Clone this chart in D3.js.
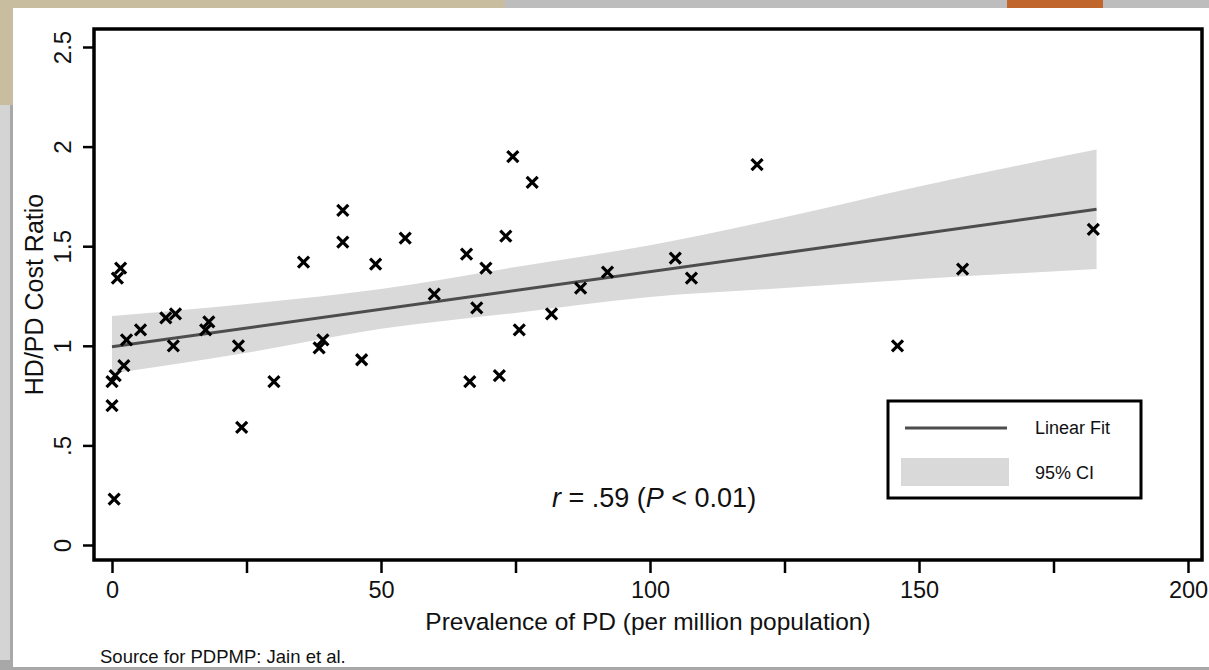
<!DOCTYPE html>
<html>
<head>
<meta charset="utf-8">
<script src="https://cdn.jsdelivr.net/npm/d3@7"></script>
<style>
  body { margin: 0; background: #ffffff; }
  text { font-family: "Liberation Sans", Arial, Helvetica, sans-serif; fill: #111; }
</style>
</head>
<body>
<div id="chart"></div>
<script>
// points
const prevalence = [0.0, 0.0, 0.6, 2.2, 2.7, 1.0, 1.6, 0.4, 5.3, 10.0, 11.8, 11.4, 17.4, 18.0,
  23.5, 24.1, 30.1, 35.6, 38.5, 39.2, 42.9, 42.9, 46.4, 49.0, 54.5, 59.9, 65.9, 66.5, 67.8,
  69.5, 72.0, 73.2, 74.5, 75.7, 78.1, 81.7, 87.1, 92.1, 104.7, 107.7, 119.9, 146.0, 158.1, 182.4];
const costRatio = [0.70, 0.82, 0.85, 0.90, 1.03, 1.34, 1.39, 0.23, 1.08, 1.14, 1.16, 1.00, 1.08, 1.12,
  1.00, 0.59, 0.82, 1.42, 0.99, 1.03, 1.52, 1.68, 0.93, 1.41, 1.54, 1.26, 1.46, 0.82, 1.19,
  1.39, 0.85, 1.55, 1.95, 1.08, 1.82, 1.16, 1.29, 1.37, 1.44, 1.34, 1.91, 1.00, 1.385, 1.585];

// fitted line and 95% CI band
const fitX = [0, 183];
const fitY = [0.995, 1.685];
const ciX = [0, 25, 50, 75, 100, 125, 150, 183];
const ciUpper = [1.15, 1.21, 1.285, 1.395, 1.505, 1.645, 1.80, 1.985];
const ciLower = [0.86, 0.965, 1.085, 1.165, 1.245, 1.29, 1.335, 1.385];

const xTicks = [0, 25, 50, 75, 100, 125, 150, 175, 200];
const xTickLabels = ["0", "", "50", "", "100", "", "150", "", "200"];
const yTicks = [0, 0.5, 1, 1.5, 2, 2.5];
const yTickLabels = ["0", ".5", "1", "1.5", "2", "2.5"];

const W = 1209, H = 670;
const frame = { left: 94, right: 1202, top: 29, bottom: 560 };

const svg = d3.select("#chart").append("svg")
  .attr("width", W)
  .attr("height", H);

// page / scan surroundings
svg.append("rect").attr("width", W).attr("height", H).attr("fill", "#a8a8a8");
svg.append("rect").attr("x", 0).attr("y", 0).attr("width", 505).attr("height", 9).attr("fill", "#c9bda0");
svg.append("rect").attr("x", 505).attr("y", 0).attr("width", W - 505).attr("height", 9).attr("fill", "#bdbdbd");
svg.append("rect").attr("x", 1007).attr("y", 0).attr("width", 96).attr("height", 9).attr("fill", "#c0662c");
svg.append("rect").attr("x", 0).attr("y", 0).attr("width", 13).attr("height", 105).attr("fill", "#c9bda0");
svg.append("rect").attr("x", 0).attr("y", 105).attr("width", 10).attr("height", 555).attr("fill", "#d4d4d4");
svg.append("rect").attr("x", 13).attr("y", 8).attr("width", W - 13).attr("height", 659).attr("fill", "#ffffff");

const x = d3.scaleLinear().domain([0, 200]).range([112, 1188]);
const y = d3.scaleLinear().domain([0, 2.5]).range([545, 47]);

// CI band
const band = ciX.map((v, i) => ({ x: v, lo: ciLower[i], hi: ciUpper[i] }));
svg.append("path")
  .datum(band)
  .attr("fill", "#d9d9d9")
  .attr("d", d3.area().curve(d3.curveMonotoneX).x(d => x(d.x)).y0(d => y(d.lo)).y1(d => y(d.hi)));

// linear fit
svg.append("path")
  .datum(fitX.map((v, i) => ({ x: v, y: fitY[i] })))
  .attr("fill", "none")
  .attr("stroke", "#4d4d4d")
  .attr("stroke-width", 3)
  .attr("d", d3.line().x(d => x(d.x)).y(d => y(d.y)));

// x markers
const pts = prevalence.map((v, i) => ({ x: v, y: costRatio[i] }));
const s = 5.5;
svg.append("g").selectAll("path")
  .data(pts)
  .join("path")
  .attr("transform", d => `translate(${x(d.x)},${y(d.y)})`)
  .attr("d", `M${-s},${-s}L${s},${s}M${-s},${s}L${s},${-s}`)
  .attr("stroke", "#000")
  .attr("stroke-width", 3.2)
  .attr("fill", "none");

// frame
svg.append("rect")
  .attr("x", frame.left).attr("y", frame.top)
  .attr("width", frame.right - frame.left)
  .attr("height", frame.bottom - frame.top)
  .attr("fill", "none")
  .attr("stroke", "#000")
  .attr("stroke-width", 3.5);

// y axis
const yAxis = svg.append("g")
  .attr("transform", `translate(${frame.left},0)`)
  .call(d3.axisLeft(y).tickValues(yTicks).tickSize(11).tickFormat((d, i) => yTickLabels[i]));
yAxis.select(".domain").remove();
yAxis.selectAll(".tick line").attr("stroke", "#000").attr("stroke-width", 2.5);
yAxis.selectAll(".tick text")
  .attr("transform", "rotate(-90)")
  .attr("x", 0)
  .attr("y", -23)
  .attr("dy", 0)
  .attr("text-anchor", "middle")
  .style("font-size", "24px")
  .style("font-family", "Liberation Sans, Arial, sans-serif")
  .attr("fill", "#111");

// x axis
const xAxis = svg.append("g")
  .attr("transform", `translate(0,${frame.bottom})`)
  .call(d3.axisBottom(x).tickValues(xTicks).tickSize(13).tickFormat((d, i) => xTickLabels[i]));
xAxis.select(".domain").remove();
xAxis.selectAll(".tick line").attr("stroke", "#000").attr("stroke-width", 2.5);
xAxis.selectAll(".tick text")
  .attr("y", 38)
  .attr("dy", 0)
  .style("font-size", "23.5px")
  .style("font-family", "Liberation Sans, Arial, sans-serif")
  .attr("fill", "#111");

// axis titles
svg.append("text")
  .attr("x", (frame.left + frame.right) / 2)
  .attr("y", 630)
  .attr("text-anchor", "middle")
  .style("font-size", "24.5px")
  .text("Prevalence of PD (per million population)");

svg.append("text")
  .attr("transform", `translate(43,${(frame.top + frame.bottom) / 2}) rotate(-90)`)
  .attr("text-anchor", "middle")
  .style("font-size", "25px")
  .text("HD/PD Cost Ratio");

// correlation note
const note = svg.append("text")
  .attr("x", 552)
  .attr("y", 507)
  .style("font-size", "27px");
note.append("tspan").style("font-style", "italic").text("r");
note.append("tspan").text(" = .59 (");
note.append("tspan").style("font-style", "italic").text("P");
note.append("tspan").text(" < 0.01)");

// legend
const lg = svg.append("g");
lg.append("rect")
  .attr("x", 888).attr("y", 401).attr("width", 253).attr("height", 97)
  .attr("fill", "#fff").attr("stroke", "#000").attr("stroke-width", 3);
lg.append("line")
  .attr("x1", 905).attr("x2", 1007).attr("y1", 428).attr("y2", 428)
  .attr("stroke", "#4d4d4d").attr("stroke-width", 3);
lg.append("rect")
  .attr("x", 901).attr("y", 458).attr("width", 108).attr("height", 28)
  .attr("fill", "#d9d9d9");
lg.append("text").attr("x", 1035).attr("y", 434).style("font-size", "18px").text("Linear Fit");
lg.append("text").attr("x", 1035).attr("y", 479).style("font-size", "18px").text("95% CI");

// source note
svg.append("text")
  .attr("x", 100)
  .attr("y", 663)
  .style("font-size", "18.5px")
  .text("Source for PDPMP: Jain et al.");
</script>
</body>
</html>
